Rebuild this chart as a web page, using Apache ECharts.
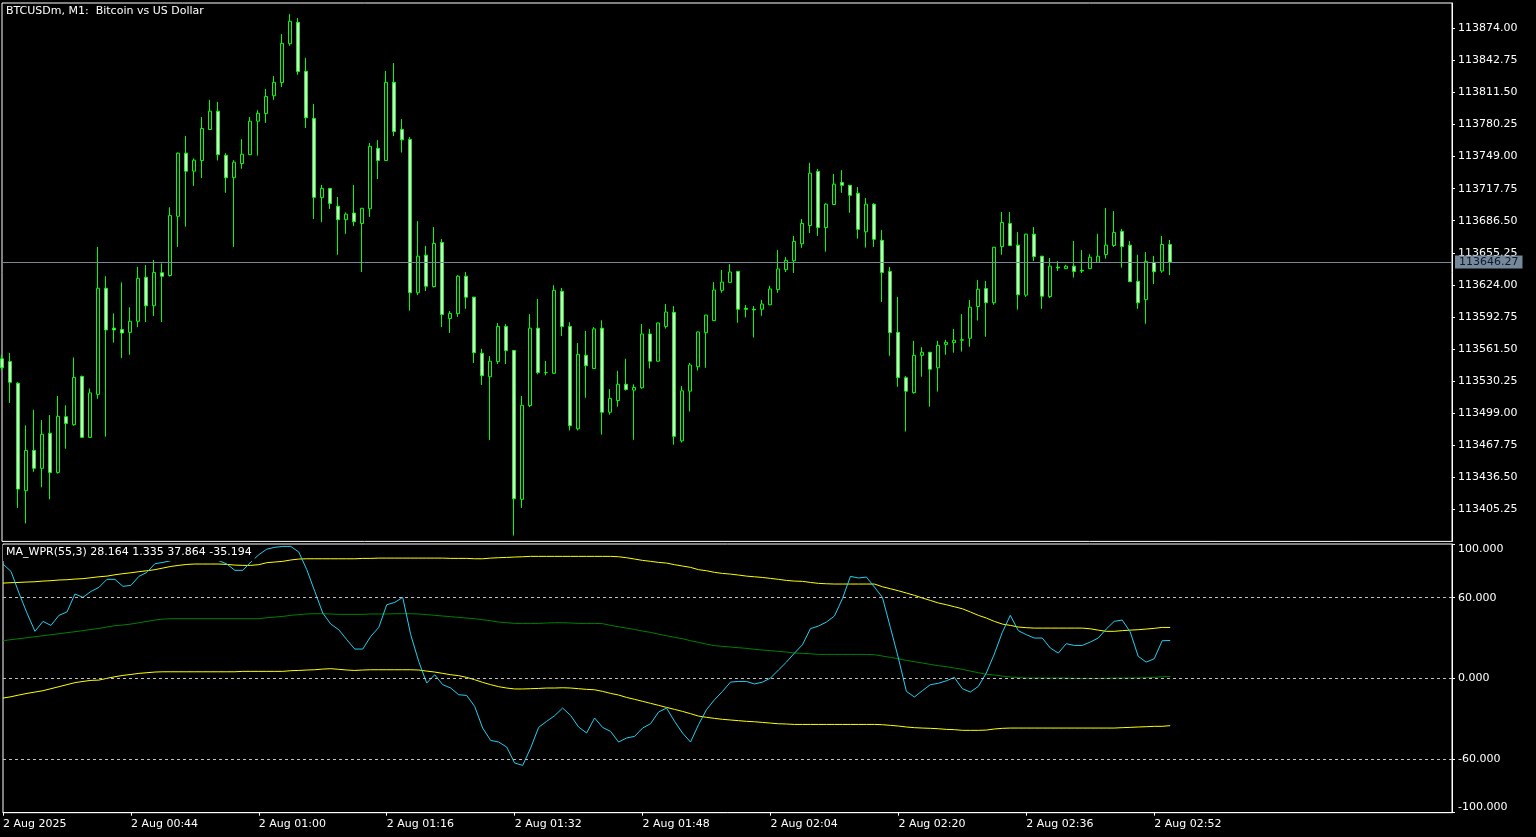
<!DOCTYPE html>
<html>
<head>
<meta charset="utf-8">
<script src="https://cdn.jsdelivr.net/npm/echarts@6.0.0/dist/echarts.min.js"></script>
<style>
html,body{margin:0;padding:0;background:#000;overflow:hidden;}
#c{width:1536px;height:837px;}
</style>
</head>
<body>
<div id="c"></div>
<script>
// ---------------- data ----------------
const symbolTitle = 'BTCUSDm, M1:  Bitcoin vs US Dollar';
const indicatorName = 'MA_WPR(55,3)';

const timeTickIndex = [0, 16, 32, 48, 64, 80, 96, 112, 128, 144];
const timeTickLabels = ['2 Aug 2025', '2 Aug 00:44', '2 Aug 01:00', '2 Aug 01:16', '2 Aug 01:32',
  '2 Aug 01:48', '2 Aug 02:04', '2 Aug 02:20', '2 Aug 02:36', '2 Aug 02:52'];

const priceAxisMin = 113374.00;
const priceAxisMax = 113898.66;
const priceTickStep = 31.25;

const wprAxisLabels = [-100, -60, 0, 60, 100];
const wprLevels = [60, 0, -60];

const opens = [
113551.9,113549.2,113528.1,113423.4,113462.6,113445.2,113479.4,113441.2,113495.5,113487.8,
113534.8,113475.4,113517.3,113620.7,113581.8,113580.4,113577.7,113588.5,113631.4,113603.6,
113635.8,113633.1,113690.8,113752.3,113734.8,113745.2,113775.4,113793.2,113750.2,113728.4,
113742.2,113750.9,113783.5,113790.9,113808.3,113821.1,113859.0,113879.8,113832.1,113786.2,
113709.0,113718.0,113700.6,113687.5,113693.9,113683.8,113698.2,113757.0,113745.2,113821.4,
113775.4,113765.7,113616.3,113652.9,113622.4,113665.3,113591.2,113595.9,113632.4,113612.0,
113557.3,113534.5,113549.2,113583.5,113560.0,113415.0,113506.3,113581.8,113538.5,113537.8,
113617.7,113583.5,113483.8,113555.3,113542.5,113581.8,113499.9,113511.3,113527.1,113521.4,
113523.7,113576.1,113549.6,113583.5,113597.2,113472.0,113520.4,113544.2,113577.4,113589.2,
113618.7,113626.4,113637.1,113601.2,113600.2,113600.2,113604.6,113619.4,113638.8,113647.5,
113664.0,113681.8,113734.5,113679.8,113702.3,113723.7,113721.0,113713.3,113675.7,113702.6,
113667.4,113637.1,113577.7,113533.4,113519.0,113555.3,113558.3,113543.2,113566.0,113567.7,
113570.0,113572.0,113602.9,113620.4,113606.6,113661.3,113683.8,113662.7,113614.0,113673.4,
113651.9,113612.6,113641.2,113639.8,113642.2,113638.2,113639.8,113645.9,113653.6,113662.3,
113676.1,113662.7,113627.4,113609.6,113645.9,113637.5,113663.3];

const closes = [
113543.2,113529.1,113425.0,113462.6,113445.2,113478.4,113441.2,113495.9,113488.8,113533.8,
113475.4,113518.7,113620.7,113580.1,113580.1,113577.1,113588.5,113630.4,113603.6,113636.1,
113632.4,113691.5,113752.3,113734.8,113745.5,113776.4,113793.2,113750.9,113728.4,113743.5,
113751.3,113783.5,113791.2,113807.6,113821.4,113859.3,113880.8,113831.8,113786.8,113709.3,
113718.0,113703.3,113687.5,113692.9,113685.5,113698.6,113759.0,113745.2,113821.4,113773.4,
113765.3,113616.3,113651.9,113622.7,113664.3,113595.2,113596.2,113632.4,113612.0,113557.9,
113535.5,113549.6,113583.5,113560.0,113415.6,113506.6,113581.8,113538.5,113538.5,113618.7,
113583.5,113486.8,113556.3,113545.2,113581.1,113499.9,113513.3,113527.1,113522.0,113524.0,
113576.1,113549.6,113586.8,113597.5,113476.4,113520.7,113545.9,113578.1,113594.5,113619.0,
113626.7,113636.5,113600.2,113600.2,113599.6,113605.3,113620.0,113639.5,113647.9,113666.3,
113683.8,113732.8,113679.8,113702.6,113722.1,113721.0,113711.3,113678.1,113702.6,113668.4,
113636.1,113577.4,113533.8,113520.4,113555.3,113558.3,113541.8,113565.0,113568.0,113570.0,
113570.6,113602.2,113619.7,113606.6,113660.6,113684.8,113662.3,113614.3,113673.4,113651.6,
113613.0,113642.2,113640.5,113642.2,113637.1,113637.5,113650.9,113651.9,113662.7,113675.1,
113661.3,113627.1,113606.6,113646.9,113636.8,113663.3,113646.27];

const highs = [
113555.9,113557.6,113529.1,113487.1,113502.2,113492.2,113497.2,113515.7,113506.6,113553.2,
113535.5,113523.0,113661.0,113632.4,113596.2,113626.4,113602.2,113641.5,113643.2,113648.2,
113644.9,113699.6,113753.0,113769.0,113747.2,113787.5,113804.3,113802.3,113752.3,113745.5,
113766.0,113787.5,113794.2,113815.0,113827.4,113868.4,113887.8,113884.1,113845.2,113800.2,
113721.4,113718.5,113709.6,113694.5,113721.4,113699.0,113762.3,113765.0,113832.5,113840.2,
113785.5,113768.0,113686.1,113662.0,113680.4,113668.7,113598.5,113633.5,113636.5,113612.4,
113561.6,113554.6,113586.8,113585.8,113560.4,113515.7,113595.5,113610.3,113549.9,113623.7,
113621.0,113587.5,113567.3,113579.1,113582.8,113589.5,113522.4,113540.2,113551.9,113527.1,
113585.8,113581.1,113587.2,113605.3,113603.3,113525.4,113547.9,113578.5,113594.9,113626.7,
113638.5,113644.2,113637.5,113604.3,113603.3,113609.3,113623.1,113658.0,113651.2,113671.7,
113688.2,113742.9,113736.8,113703.6,113732.1,113735.8,113721.4,113719.4,113708.6,113703.6,
113677.4,113641.5,113612.3,113535.1,113569.4,113563.3,113558.7,113569.4,113570.4,113581.1,
113595.5,113609.3,113628.8,113627.7,113661.0,113694.9,113694.9,113675.4,113673.8,113680.4,
113652.3,113650.2,113647.2,113643.5,113666.7,113658.0,113653.9,113673.7,113698.9,113695.9,
113678.4,113666.7,113653.3,113655.9,113652.2,113671.7,113667.7];

const lows = [
113540.8,113508.9,113406.6,113391.5,113441.8,113426.7,113415.0,113440.1,113464.3,113486.8,
113474.8,113474.9,113513.0,113476.1,113567.7,113552.6,113555.9,113582.8,113587.8,113593.5,
113587.8,113632.1,113661.0,113680.8,113720.4,113728.1,113775.0,113745.2,113713.7,113661.0,
113737.2,113750.5,113749.9,113781.8,113804.3,113816.7,113857.0,113828.8,113776.8,113688.2,
113685.1,113697.9,113653.3,113673.7,113681.4,113636.5,113690.2,113727.1,113744.8,113769.0,
113752.9,113598.9,113614.0,113618.0,113621.4,113582.8,113577.1,113592.8,113600.6,113547.9,
113526.4,113472.7,113546.9,113546.9,113379.7,113406.6,113504.9,113536.8,113535.8,113537.4,
113574.1,113482.1,113482.1,113514.0,113542.1,113478.1,113497.5,113505.3,113521.0,113473.0,
113522.7,113542.5,113549.2,113581.4,113468.3,113470.4,113500.6,113540.5,113543.2,113588.8,
113616.3,113626.0,113587.1,113592.2,113572.7,113593.9,113604.2,113616.3,113636.5,113635.5,
113660.0,113674.4,113671.7,113656.3,113701.9,113713.7,113694.2,113669.0,113660.3,113661.0,
113607.3,113554.9,113524.7,113481.1,113518.0,113534.5,113505.3,113520.0,113555.9,113557.9,
113559.0,113563.6,113589.2,113573.4,113604.6,113653.3,113661.9,113599.9,113612.3,113647.2,
113600.6,113611.3,113637.5,113639.4,113631.1,113635.5,113639.4,113645.5,113649.6,113661.0,
113640.8,113626.7,113600.6,113586.1,113624.7,113635.8,113633.5];

const wprMain = [
85.1,79.6,63.5,48.6,35.0,42.4,39.4,46.9,49.4,62.8,
60.3,64.7,67.7,73.7,73.7,68.5,69.2,75.9,78.9,85.3,
86.3,87.6,89.1,89.5,90.0,89.5,89.1,87.6,85.1,80.4,
80.4,86.6,92.0,96.2,97.5,98.2,98.2,94.0,80.9,64.7,
48.6,40.4,36.2,28.8,21.8,21.8,31.2,37.9,54.8,56.5,
60.3,32.5,12.6,-3.5,2.7,-4.7,-7.2,-12.2,-12.7,-20.9,
-37.0,-46.2,-47.4,-51.1,-63.0,-64.8,-51.9,-36.5,-32.0,-27.8,
-22.1,-27.6,-36.2,-40.7,-29.5,-36.5,-39.5,-47.4,-44.4,-43.2,
-37.0,-33.8,-25.1,-22.1,-32.0,-40.7,-47.4,-34.5,-23.3,-15.9,
-9.7,-2.8,-2.3,-2.3,-4.2,-2.8,0.2,6.2,12.1,18.8,
25.0,37.0,38.9,41.9,46.4,59.3,75.9,74.7,75.4,68.0,
60.3,37.9,15.1,-9.7,-13.9,-9.2,-4.7,-3.7,-1.8,0.7,
-7.7,-10.2,-6.0,4.0,18.1,34.2,46.9,35.5,32.5,30.0,
30.0,22.6,18.8,25.8,24.5,24.5,27.0,30.0,36.7,42.4,
43.4,34.5,16.4,12.1,14.6,28.0,28.164];

const wprUpper = [
70.9,71.2,71.4,71.7,71.9,72.4,72.7,73.2,73.4,73.9,
74.2,74.9,75.6,76.1,77.1,77.9,78.6,79.4,80.1,80.9,
82.1,83.3,84.1,84.8,85.1,85.1,85.1,85.1,84.8,84.3,
84.1,84.1,84.6,86.1,86.6,87.1,88.1,88.8,89.0,89.0,
89.0,89.0,89.0,89.0,89.0,89.3,89.3,89.5,89.5,89.5,
89.5,89.5,89.5,89.5,89.5,89.5,89.3,89.3,89.3,89.0,
89.0,89.5,89.8,90.0,90.3,90.5,90.8,90.8,90.8,90.8,
90.8,90.8,90.8,90.8,90.8,90.8,90.8,90.5,89.8,88.8,
87.8,87.1,86.3,85.8,84.6,83.6,82.6,80.9,80.1,78.9,
78.1,77.6,76.9,76.1,75.6,75.1,74.4,73.7,72.9,72.4,
72.2,71.4,70.7,70.4,70.2,70.2,70.2,70.2,70.2,70.2,
68.2,66.7,65.2,63.5,61.8,59.8,58.0,56.1,54.8,53.3,
51.8,49.4,46.9,44.9,42.4,40.4,39.4,38.2,37.7,37.4,
37.4,37.4,37.4,37.4,37.4,37.4,36.9,35.9,35.0,35.0,
35.5,35.9,36.2,36.7,37.2,37.9,37.864];

const wprMid = [
28.0,28.8,29.5,30.2,31.0,31.7,32.5,33.2,34.0,34.7,
35.5,36.4,37.2,38.2,39.2,39.7,40.4,41.4,42.4,43.4,
44.1,44.4,44.4,44.4,44.4,44.4,44.4,44.4,44.4,44.4,
44.4,44.4,44.4,45.1,45.6,46.1,46.9,47.4,47.9,48.1,
48.1,47.9,47.6,47.6,47.6,47.6,47.9,47.9,47.9,48.1,
48.1,48.1,47.9,47.4,46.9,46.4,45.9,45.4,44.9,44.4,
43.6,42.9,41.9,41.4,40.9,40.9,40.9,40.9,41.2,41.4,
41.4,41.2,40.9,40.9,40.9,40.7,39.4,38.4,37.4,36.4,
35.2,34.2,32.9,31.7,30.5,29.5,28.0,26.8,25.5,24.3,
23.8,23.3,22.8,22.3,21.6,21.1,20.6,20.1,19.6,18.8,
18.6,18.3,17.8,17.8,17.8,17.8,17.8,17.8,17.8,17.6,
16.6,15.6,14.6,13.4,12.4,11.4,10.4,9.4,8.7,7.7,
6.7,5.4,4.2,3.0,2.5,1.7,1.0,0.5,0.2,0.2,
0.2,0.2,0.2,0.2,0.0,0.0,0.0,0.0,0.0,0.2,
0.2,0.2,0.2,0.5,0.7,1.2,1.335];

const wprLower = [
-14.7,-13.7,-12.4,-11.2,-10.2,-9.2,-7.7,-6.2,-4.7,-3.2,
-2.3,-1.5,-1.3,0.0,1.2,2.2,2.9,3.7,4.2,4.7,
4.9,4.9,4.9,4.9,4.9,4.9,4.9,4.9,4.9,4.9,
5.2,5.2,5.2,5.2,5.2,5.2,5.7,5.9,6.2,6.4,
6.9,7.2,6.7,6.2,5.9,6.2,6.4,6.4,6.4,6.4,
6.4,6.4,6.2,5.4,4.7,3.7,2.7,2.0,0.7,-1.0,
-3.0,-4.7,-6.2,-7.2,-7.9,-7.9,-7.7,-7.5,-7.2,-7.2,
-7.0,-7.2,-7.7,-8.2,-8.5,-9.7,-11.2,-12.4,-14.2,-15.6,
-17.1,-18.6,-20.1,-21.6,-23.1,-24.6,-26.3,-28.1,-29.0,-29.8,
-30.5,-31.0,-31.5,-32.0,-32.3,-32.8,-33.3,-33.8,-34.0,-34.3,
-34.3,-34.3,-34.3,-34.3,-34.3,-34.3,-34.3,-34.3,-34.3,-34.3,
-34.5,-35.0,-35.5,-36.2,-36.7,-37.0,-37.2,-37.5,-38.0,-38.2,
-38.7,-38.7,-38.7,-38.5,-37.7,-37.2,-37.0,-37.0,-37.0,-37.0,
-37.0,-37.0,-37.0,-37.0,-37.0,-37.0,-37.0,-37.0,-37.0,-37.0,
-36.7,-36.5,-36.2,-36.0,-35.7,-35.7,-35.194];

// ---------------- chart ----------------
const FONT = 'DejaVu Sans';
const WHITE = '#ffffff';
const xMaxSlots = 181.25;
const lastPrice = closes[closes.length - 1];
const last = a => a[a.length - 1];
const legendText = indicatorName + ' ' + [last(wprMain), last(wprMid), last(wprUpper), last(wprLower)]
  .map(v => v.toFixed(3)).join(' ');

const candleData = opens.map((o, i) => [i, o, closes[i], lows[i], highs[i]]);
const toXY = arr => arr.map((v, i) => [i, v]);

const txt = { color: WHITE, fontFamily: FONT, fontSize: 11 };

const chart = echarts.init(document.getElementById('c'), null, { renderer: 'canvas' });
chart.setOption({
  backgroundColor: '#000000',
  animation: false,
  title: [
    { text: symbolTitle, left: 6, top: 6, padding: 0,
      textStyle: Object.assign({ fontWeight: 'normal' }, txt) },
    { text: legendText, left: 3, top: 545, padding: [2, 3, 3, 3], backgroundColor: '#000000',
      textStyle: Object.assign({ fontWeight: 'normal' }, txt) }
  ],
  grid: [
    { left: 2, top: 3, width: 1450, height: 538.4, show: true, borderColor: WHITE, borderWidth: 1,
      backgroundColor: 'transparent' },
    { left: 2, top: 544, width: 1450, height: 268.7, show: true, borderColor: WHITE, borderWidth: 1,
      backgroundColor: 'transparent' }
  ],
  xAxis: [
    { gridIndex: 0, type: 'value', min: 0, max: xMaxSlots, show: false,
      axisLine: { onZero: false } },
    { gridIndex: 1, type: 'value', min: 0, max: xMaxSlots,
      axisLine: { show: true, onZero: false, lineStyle: { color: WHITE } },
      axisTick: { show: true, length: 3, customValues: timeTickIndex, lineStyle: { color: WHITE } },
      axisLabel: Object.assign({ customValues: timeTickIndex, align: 'left', margin: 6,
        formatter: v => { const i = timeTickIndex.indexOf(v); return i >= 0 ? timeTickLabels[i] : ''; } }, txt),
      splitLine: { show: false } }
  ],
  yAxis: [
    { gridIndex: 0, type: 'value', position: 'right', min: priceAxisMin, max: priceAxisMax,
      interval: priceTickStep,
      axisLine: { show: true, onZero: false, lineStyle: { color: WHITE } },
      axisTick: { show: true, length: 3, lineStyle: { color: WHITE } },
      axisLabel: Object.assign({ margin: 6, showMinLabel: false, showMaxLabel: false,
        formatter: v => v.toFixed(2) }, txt),
      splitLine: { show: false } },
    { gridIndex: 1, type: 'value', position: 'right', min: -100, max: 100,
      axisLine: { show: true, onZero: false, lineStyle: { color: WHITE } },
      axisTick: { show: true, length: 3, customValues: wprAxisLabels, lineStyle: { color: WHITE } },
      axisLabel: Object.assign({ margin: 6, customValues: wprAxisLabels,
        verticalAlignMaxLabel: 'top', verticalAlignMinLabel: 'bottom',
        formatter: v => v.toFixed(3) }, txt),
      splitLine: { show: false } }
  ],
  series: [
    { type: 'candlestick', xAxisIndex: 0, yAxisIndex: 0, data: candleData,
      encode: { x: 0, y: [1, 2, 3, 4] },
      barWidth: 4, silent: true, clip: true,
      itemStyle: { color: '#000000', color0: '#ffffff', borderColor: '#00ff00', borderColor0: '#00ff00',
        borderColorDoji: '#00ff00', borderWidth: 1 },
      markLine: { silent: true, symbol: ['none', 'none'], animation: false,
        data: [{ yAxis: lastPrice }],
        lineStyle: { color: '#778899', type: 'solid', width: 1 },
        label: { show: true, position: 'end', distance: 3, formatter: lastPrice.toFixed(2),
          backgroundColor: '#778899', color: '#0d1530', padding: [1, 4, 1, 4],
          fontFamily: FONT, fontSize: 11 } } },
    { type: 'line', name: 'upper', xAxisIndex: 1, yAxisIndex: 1, data: toXY(wprUpper),
      showSymbol: false, silent: true, lineStyle: { color: '#ffff00', width: 1 },
      markLine: { silent: true, symbol: ['none', 'none'], animation: false,
        data: wprLevels.map(v => ({ yAxis: v })), label: { show: false },
        lineStyle: { color: '#c0c0c0', type: [3, 3], width: 1 } } },
    { type: 'line', name: 'middle', xAxisIndex: 1, yAxisIndex: 1, data: toXY(wprMid),
      showSymbol: false, silent: true, lineStyle: { color: '#008000', width: 1 } },
    { type: 'line', name: 'lower', xAxisIndex: 1, yAxisIndex: 1, data: toXY(wprLower),
      showSymbol: false, silent: true, lineStyle: { color: '#ffff00', width: 1 } },
    { type: 'line', name: 'wpr', xAxisIndex: 1, yAxisIndex: 1, data: toXY(wprMain),
      showSymbol: false, silent: true, lineStyle: { color: '#22d0f0', width: 1 } }
  ]
});
</script>
</body>
</html>
